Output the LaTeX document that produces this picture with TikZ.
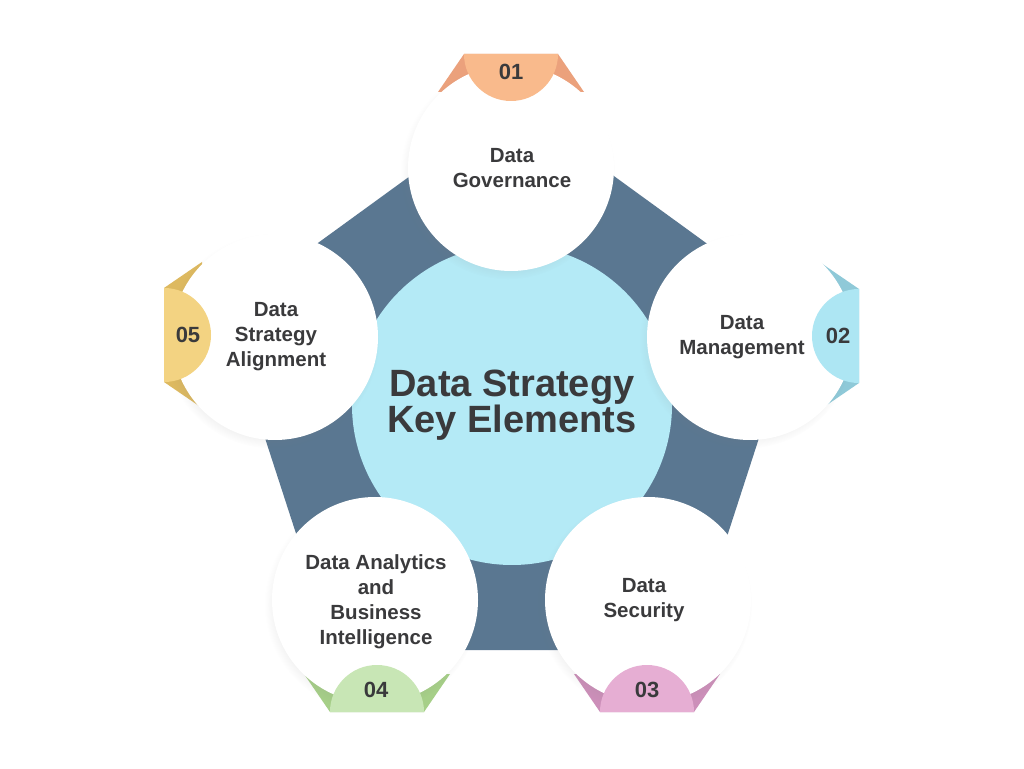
\documentclass[tikz,border=0pt]{standalone}
\usepackage{fontspec}
\setmainfont{Liberation Sans}
\usetikzlibrary{shadows,positioning}

\definecolor{pentblue}{HTML}{5A7791}
\definecolor{coreblue}{HTML}{B4EAF6}
\definecolor{ink}{HTML}{3A3A3C}
\definecolor{tabA}{HTML}{F9BA8C}\definecolor{earA}{HTML}{EBA17C}
\definecolor{tabB}{HTML}{ADE6F3}\definecolor{earB}{HTML}{8FC9D8}
\definecolor{tabC}{HTML}{E6AED3}\definecolor{earC}{HTML}{CC8FB9}
\definecolor{tabD}{HTML}{C8E6B5}\definecolor{earD}{HTML}{A6CF88}
\definecolor{tabE}{HTML}{F3D382}\definecolor{earE}{HTML}{DDB960}

\tikzset{
  ears/.pic={\path[pic actions] (-47,0) -- (-73,-38) -- (73,-38) -- (47,0) -- cycle;},
  disk/.pic={\path[pic actions] (-47,0) arc[start angle=180,end angle=360,radius=47] -- cycle;}
}

\begin{document}
\begin{tikzpicture}[x=1pt,y=1pt,
    sat/.style={circle,fill=white,minimum size=206pt,inner sep=0pt,
      circular drop shadow={shadow xshift=-3pt,shadow yshift=-4pt,shadow scale=1.04,opacity=.15}},
    core/.style={circle,fill=coreblue,minimum size=320pt,inner sep=0pt,align=center,
      text=ink,font=\fontsize{38}{36}\selectfont\bfseries},
    lbl/.style={align=center,text=ink,font=\fontsize{20.5}{25}\selectfont\bfseries},
    num/.style={text=ink,font=\fontsize{22}{22}\selectfont\bfseries}]
    \useasboundingbox[fill=white] (0,0) rectangle (1024,768);
    % pentagon behind everything
    \fill[pentblue,shift={(512,363)}] (90:303) -- (162:303) -- (234:303) -- (306:303) -- (18:303) -- cycle;
    \node [core] (core) at (512,363) {Data Strategy\\Key Elements};
    % tab anchors
    \coordinate (t1) at (511,714);
    \coordinate (t2) at (859,432);
    \coordinate (t3) at (647,56);
    \coordinate (t4) at (377,56);
    \coordinate (t5) at (164,433);
    \pic [fill=earA] at (t1) {ears};
    \pic [fill=earB,rotate=-90] at (t2) {ears};
    \pic [fill=earC,rotate=180] at (t3) {ears};
    \pic [fill=earD,rotate=180] at (t4) {ears};
    \pic [fill=earE,rotate=90] at (t5) {ears};
    % white circles
    \node [sat] (gov) at (511,600) {};
    \node [sat] (mgmt) at (750,431) {};
    \node [sat] (sec) at (648,168) {};
    \node [sat] (bi) at (375,168) {};
    \node [sat] (align) at (275,431) {};
    \pic [fill=tabA] at (t1) {disk};
    \pic [fill=tabB,rotate=-90] at (t2) {disk};
    \pic [fill=tabC,rotate=180] at (t3) {disk};
    \pic [fill=tabD,rotate=180] at (t4) {disk};
    \pic [fill=tabE,rotate=90] at (t5) {disk};
    \node [num] at (511,696) {01};
    \node [num] at (838,432) {02};
    \node [num] at (647,78) {03};
    \node [num] at (376,78) {04};
    \node [num] at (188,433) {05};
    \node [lbl] at ([xshift=1pt]gov) {Data\\Governance};
    \node [lbl] at ([xshift=-8pt]mgmt) {Data\\Management};
    \node [lbl] at ([xshift=-4pt]sec) {Data\\Security};
    \node [lbl] at ([xshift=1pt,yshift=-2pt]bi) {Data Analytics\\and\\Business\\Intelligence};
    \node [lbl] at ([xshift=1pt]align) {Data\\Strategy\\Alignment};
\end{tikzpicture}
\end{document}
